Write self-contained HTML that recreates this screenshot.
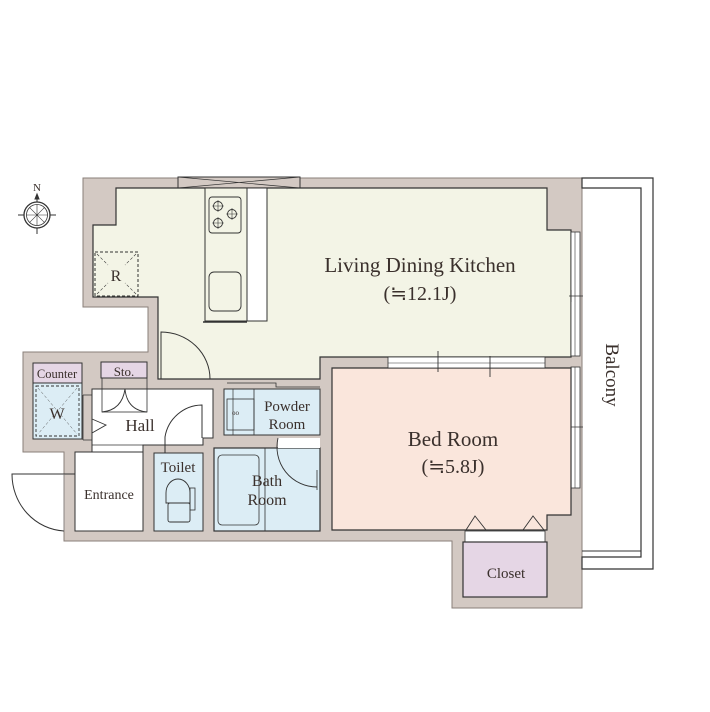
<!DOCTYPE html>
<html><head><meta charset="utf-8"><style>
html,body{margin:0;padding:0;background:#fff;}
svg{display:block;}
text{font-family:"Liberation Serif",serif;fill:#3a302c;}
</style></head><body>
<svg width="710" height="712" viewBox="0 0 710 712" xmlns="http://www.w3.org/2000/svg">
<!-- walls -->
<polygon points="83,178 582,178 582,608 452,608 452,541 64,541 64,452 23,452 23,352 148,352 148,307 83,307" fill="#d3c9c3" stroke="#8a7f7a" stroke-width="1"/>
<!-- balcony -->
<path d="M582,178 H653 V569 H582 V557 H641 V188 H582 Z" fill="#fff" stroke="#333" stroke-width="1.2"/>
<line x1="582" y1="551" x2="641" y2="551" stroke="#333" stroke-width="1"/>
<text x="612" y="375" font-size="19" text-anchor="middle" transform="rotate(90 612 375)" dy="6">Balcony</text>
<!-- top window -->
<rect x="178" y="177" width="122" height="11" fill="#d3c9c3" stroke="#333" stroke-width="1"/>
<path d="M178,177 L300,188 M178,188 L300,177" stroke="#333" stroke-width="0.7"/>
<!-- LDK -->
<polygon points="116,188 547,188 547,230 571,230 571,357 320,357 320,379 158,379 158,297 93,297 93,225 116,225" fill="#f3f4e6" stroke="#333" stroke-width="1.2"/>
<!-- right windows -->
<rect x="571" y="232" width="9" height="124" fill="#fff" stroke="#333" stroke-width="0.8"/>
<line x1="575" y1="232" x2="575" y2="356" stroke="#333" stroke-width="0.6"/>
<path d="M569,296 H583 M571,290 V302" stroke="#333" stroke-width="0.8"/>
<rect x="571" y="367" width="9" height="121" fill="#fff" stroke="#333" stroke-width="0.8"/>
<line x1="575" y1="367" x2="575" y2="488" stroke="#333" stroke-width="0.6"/>
<path d="M569,427 H583 M571,421 V433" stroke="#333" stroke-width="0.8"/>
<!-- bed room -->
<polygon points="332,368 571,368 571,515 547,515 547,530 332,530" fill="#fae6dc" stroke="#333" stroke-width="1.2"/>
<rect x="388" y="357" width="157" height="11" fill="#fff" stroke="#333" stroke-width="0.8"/>
<line x1="388" y1="363" x2="545" y2="363" stroke="#333" stroke-width="0.6"/>
<path d="M438,351 V372 M490,356 V377" stroke="#333" stroke-width="0.9"/>
<!-- closet -->
<rect x="465" y="531" width="80" height="11" fill="#fff" stroke="#333" stroke-width="0.8"/>
<rect x="463" y="542" width="84" height="55" fill="#e5d6e5" stroke="#333" stroke-width="1.2"/>
<path d="M466,530 L475,516 L486,530 M523,530 L533,516 L544,530" fill="none" stroke="#333" stroke-width="0.9"/>
<text x="506" y="578" font-size="15" text-anchor="middle">Closet</text>
<!-- kitchen -->
<rect x="247" y="188" width="20" height="133" fill="#fff" stroke="#333" stroke-width="1"/>
<rect x="205" y="188" width="42" height="133" fill="#f3f4e6" stroke="#333" stroke-width="1"/>
<line x1="203" y1="322" x2="247" y2="322" stroke="#333" stroke-width="1.5"/>
<rect x="209" y="197" width="32" height="36" rx="3" fill="none" stroke="#333" stroke-width="0.9"/>
<g fill="none" stroke="#333" stroke-width="0.9">
<circle cx="218" cy="206" r="4.5"/><circle cx="232" cy="214" r="4.5"/><circle cx="218" cy="223" r="4.5"/>
<path d="M218,200V212M212,206H224M232,208V220M226,214H238M218,217V229M212,223H224" stroke-width="0.6"/>
</g>
<rect x="209" y="272" width="32" height="39" rx="5" fill="none" stroke="#333" stroke-width="0.9"/>
<!-- R -->
<rect x="95" y="252" width="43" height="44" fill="none" stroke="#333" stroke-width="1" stroke-dasharray="3,2"/>
<path d="M97,254 L108,265 M136,254 L125,265 M97,294 L108,283 M136,294 L125,283" stroke="#333" stroke-width="0.6" stroke-dasharray="3,2"/>
<text x="116" y="281" font-size="16" text-anchor="middle">R</text>
<!-- LDK door -->
<path d="M161,379 V332 A49,47 0 0 1 210,379" fill="none" stroke="#333" stroke-width="1"/>
<text x="420" y="272" font-size="21" text-anchor="middle">Living Dining Kitchen</text>
<text x="420" y="300" font-size="20" text-anchor="middle">(≒12.1J)</text>
<text x="453" y="446" font-size="21" text-anchor="middle">Bed Room</text>
<text x="453" y="473" font-size="20" text-anchor="middle">(≒5.8J)</text>
<!-- counter / W -->
<rect x="33" y="363" width="49" height="20" fill="#e5d6e5" stroke="#333" stroke-width="1"/>
<text x="57" y="378" font-size="12.5" text-anchor="middle">Counter</text>
<rect x="33" y="383" width="49" height="56" fill="#dcedf5" stroke="#333" stroke-width="1"/>
<rect x="36" y="386" width="43" height="50" fill="none" stroke="#333" stroke-width="0.9" stroke-dasharray="3,2"/>
<path d="M38,388 L77,434 M77,388 L38,434" stroke="#555" stroke-width="0.5" stroke-dasharray="3,2"/>
<text x="57" y="419" font-size="16" text-anchor="middle">W</text>
<!-- sto -->
<rect x="101" y="362" width="46" height="16" fill="#e5d6e5" stroke="#333" stroke-width="1"/>
<text x="124" y="376" font-size="13" text-anchor="middle">Sto.</text>
<!-- hall -->
<polygon points="92,389 213,389 213,438 203,438 203,445 143,445 143,452 92,452" fill="#fff" stroke="#333" stroke-width="1"/>
<line x1="92" y1="445" x2="143" y2="445" stroke="#333" stroke-width="0.8"/>
<rect x="102" y="378" width="45" height="34" fill="none" stroke="#333" stroke-width="0.8"/>
<path d="M102,412 Q122,410 125,389 Q127,410 147,412" fill="none" stroke="#333" stroke-width="0.9"/>
<path d="M92,419 L106,425 L92,433" fill="none" stroke="#333" stroke-width="0.9"/>
<path d="M83,395 H92 M83,440 H92 M83,395 V440" fill="none" stroke="#333" stroke-width="0.8"/>
<text x="140" y="431" font-size="17" text-anchor="middle">Hall</text>
<path d="M165,453 V437 A38,38 0 0 1 202,405 V438" fill="none" stroke="#333" stroke-width="1"/>
<!-- entrance -->
<rect x="75" y="452" width="68" height="79" fill="#fff" stroke="#333" stroke-width="1"/>
<text x="109" y="499" font-size="14" text-anchor="middle">Entrance</text>
<path d="M75,474 H12 A55,57 0 0 0 64,531" fill="none" stroke="#333" stroke-width="1"/>
<line x1="64" y1="474" x2="64" y2="531" stroke="#888" stroke-width="0.5"/>
<!-- toilet -->
<rect x="154" y="453" width="49" height="78" fill="#dcedf5" stroke="#333" stroke-width="1"/>
<text x="178" y="472" font-size="15" text-anchor="middle">Toilet</text>
<path d="M166,503 V493 A12,14 0 0 1 190,493 V503 Z" fill="none" stroke="#333" stroke-width="0.9"/>
<rect x="168" y="503" width="22" height="19" rx="2" fill="none" stroke="#333" stroke-width="0.9"/>
<rect x="190" y="488" width="5" height="22" fill="none" stroke="#333" stroke-width="0.8"/>
<!-- bath -->
<rect x="214" y="448" width="106" height="83" fill="#dcedf5" stroke="#333" stroke-width="1.2"/>
<rect x="218" y="455" width="41" height="70" rx="4" fill="none" stroke="#333" stroke-width="0.8"/>
<line x1="265" y1="448" x2="265" y2="531" stroke="#333" stroke-width="0.8"/>
<rect x="278" y="438" width="42" height="10" fill="#fff" stroke="none"/>
<path d="M278,438 A40,40 0 0 0 317,487" fill="none" stroke="#333" stroke-width="0.9"/>
<path d="M317,470 V490" stroke="#333" stroke-width="0.8"/>
<text x="267" y="486" font-size="16" text-anchor="middle">Bath</text>
<text x="267" y="505" font-size="16" text-anchor="middle">Room</text>
<!-- powder -->
<rect x="224" y="389" width="96" height="46" fill="#dcedf5" stroke="#333" stroke-width="1"/>
<path d="M227,383 H276 V387 H320" fill="none" stroke="#333" stroke-width="0.8"/>
<rect x="227" y="399" width="27" height="31" fill="none" stroke="#333" stroke-width="0.8"/>
<line x1="233" y1="389" x2="233" y2="435" stroke="#333" stroke-width="0.7"/>
<line x1="254" y1="389" x2="254" y2="435" stroke="#333" stroke-width="0.8"/>
<text x="232" y="415" font-size="7">oo</text>
<text x="287" y="411" font-size="15" text-anchor="middle">Powder</text>
<text x="287" y="429" font-size="15" text-anchor="middle">Room</text>
<!-- compass -->
<g transform="translate(37,215)" fill="none" stroke="#333">
<circle r="13" stroke-width="1.3"/><circle r="10.5" stroke-width="0.8"/>
<path d="M0,-10.5V10.5M-10.5,0H10.5M-7.4,-7.4L7.4,7.4M7.4,-7.4L-7.4,7.4" stroke-width="0.6"/>
<path d="M0,-13V-20M0,13V19M-13,0H-19M13,0H19" stroke-width="1"/>
<path d="M-2,-16L0,-21L2,-16Z" fill="#333"/>
</g>
<text x="37" y="191" font-size="11" text-anchor="middle">N</text>
</svg>
</body></html>
